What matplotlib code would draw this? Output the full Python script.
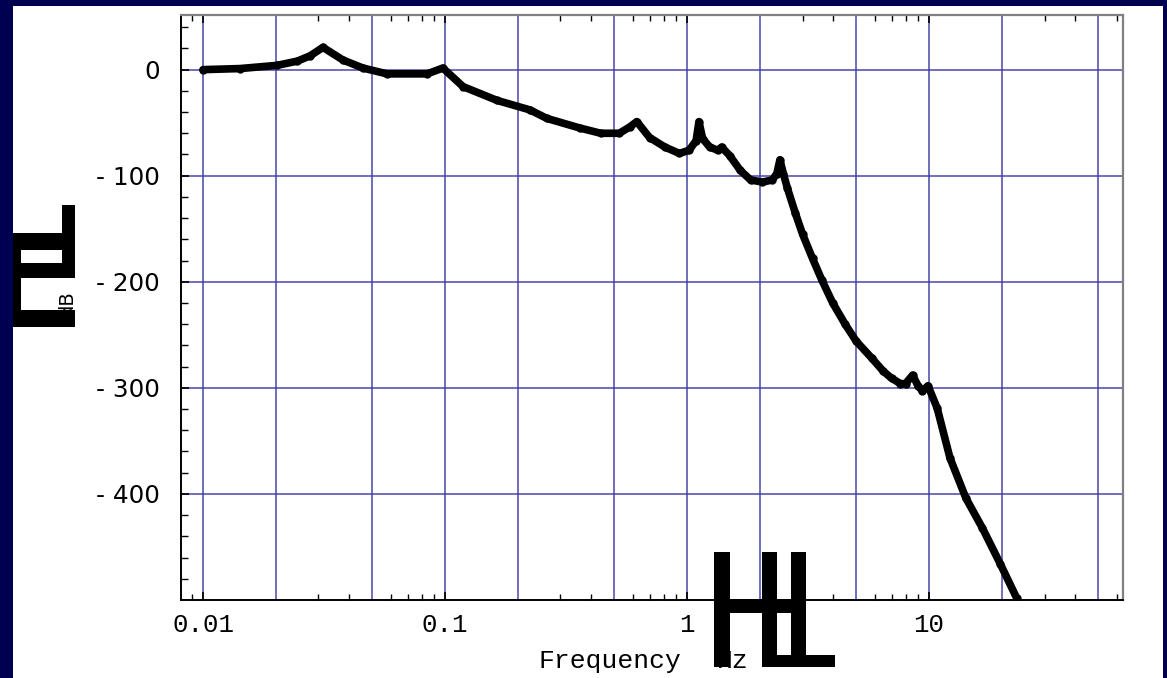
import numpy as np
import matplotlib
matplotlib.use("Agg")
import matplotlib.pyplot as plt
from matplotlib.patches import Rectangle
from matplotlib.ticker import FixedLocator, NullFormatter

# ---- data ----
freq_hz = [0.01, 0.0142, 0.0202, 0.0245, 0.0277, 0.0313, 0.0379, 0.0458, 0.0576,
           0.0843, 0.098, 0.1187, 0.164, 0.2245, 0.2635, 0.36, 0.44, 0.525, 0.58,
           0.62, 0.70, 0.81, 0.93, 1.02, 1.09, 1.12, 1.16, 1.24, 1.34, 1.39, 1.50,
           1.66, 1.83, 2.05, 2.25, 2.35, 2.42, 2.5, 2.6, 2.8, 3.0, 3.3, 3.6, 4.0,
           4.5, 5.0, 5.8, 6.45, 7.0, 7.62, 8.0, 8.55, 9.0, 9.39, 9.9, 10.8, 12.2,
           14.2, 16.6, 19.7, 23.0]
gain_db = [0, 1, 4, 8, 13, 21, 9, 1.5, -4,
           -4, 1.5, -16, -29, -38, -46, -55, -60, -60, -54,
           -49, -64, -73, -79, -76, -67, -49, -65, -73, -76, -73, -81,
           -95, -104, -106, -104, -98, -85, -98, -112, -135, -155, -178, -198, -220,
           -240, -256, -272, -284, -291, -296, -296, -288, -298, -303, -298, -319, -366,
           -404, -432, -466, -498]

yticks = [0, -100, -200, -300, -400]
ytick_labels = ["0", "- 100", "- 200", "- 300", "- 400"]
xticks = [0.01, 0.1, 1, 10]
xtick_labels = ["0.01", "0.1", "1", "10"]
xgrid = [0.01, 0.02, 0.05, 0.1, 0.2, 0.5, 1, 2, 5, 10, 20, 50]

W, H = 1167, 678
fig = plt.figure(figsize=(W / 100, H / 100), dpi=100)
fig.patch.set_facecolor("#000050")
fig.add_artist(Rectangle((13 / W, 0), 1150 / W, 672 / H, transform=fig.transFigure,
                         facecolor="white", edgecolor="none", zorder=-10))

ax = fig.add_axes([181 / W, 1 - 600 / H, (1123 - 181) / W, (600 - 15) / H])
ax.set_facecolor("white")
ax.set_xscale("log")
ax.set_xlim(0.00811, 63.3)
ax.set_ylim(-500, 51.5)

# grid
for g in xgrid:
    ax.axvline(g, color="#3c3ca5", lw=1.3, alpha=0.8, zorder=1)
for g in yticks:
    ax.axhline(g, color="#3c3ca5", lw=1.3, alpha=0.8, zorder=1)

ax.plot(freq_hz, gain_db, color="black", lw=5.5, solid_capstyle="round",
        solid_joinstyle="round", zorder=3, marker="o", ms=5)

# spines
for s in ["left", "bottom"]:
    ax.spines[s].set_color("black")
    ax.spines[s].set_linewidth(1.4)
for s in ["top", "right"]:
    ax.spines[s].set_color("#808080")
    ax.spines[s].set_linewidth(1.6)

ax.xaxis.set_major_locator(FixedLocator(xticks))
ax.set_xticklabels(xtick_labels)
minor = [m * 10.0 ** e for e in range(-3, 2) for m in (3, 4, 6, 7, 8, 9)]
ax.xaxis.set_minor_locator(FixedLocator(minor))
ax.xaxis.set_minor_formatter(NullFormatter())
ax.yaxis.set_major_locator(FixedLocator(yticks))
ax.set_yticklabels(ytick_labels)
ax.yaxis.set_minor_locator(FixedLocator(list(range(-480, 60, 20))))

ax.tick_params(axis="x", which="both", direction="in", top=True, bottom=True,
               color="black")
ax.tick_params(axis="x", which="major", length=6, width=1.2, pad=9)
ax.tick_params(axis="x", which="minor", length=4, width=1.0)
ax.tick_params(axis="y", which="both", direction="in", left=True, right=False,
               color="black")
ax.tick_params(axis="y", which="major", length=6, width=1.2, pad=15)
ax.tick_params(axis="y", which="minor", length=5, width=1.0)

for lbl in ax.get_xticklabels():
    lbl.set_fontfamily("Liberation Mono")
    lbl.set_fontsize(18.5)
for lbl in ax.get_yticklabels():
    lbl.set_fontfamily("DejaVu Sans")
    lbl.set_fontsize(17.7)

# axis label texts
fig.text(610 / W, 1 - 668 / H, "Frequency", family="Liberation Mono", fontsize=19,
         ha="center", va="baseline", color="black")
fig.text(733 / W, 1 - 668 / H, "Hz", family="Liberation Mono", fontsize=19,
         ha="center", va="baseline", color="black", zorder=1)
fig.text(67 / W, 1 - 303 / H, "dB", family="DejaVu Sans", fontsize=14,
         rotation=90, ha="center", va="center", color="black", zorder=1)

# oversized bracket glyph artefacts
def block(x0, x1, y0, y1):
    fig.add_artist(Rectangle((x0 / W, 1 - y1 / H), (x1 - x0) / W, (y1 - y0) / H,
                             transform=fig.transFigure, facecolor="black",
                             edgecolor="none", zorder=5))

# y label brackets
block(62, 75, 205, 278)
block(13, 75, 233, 250)
block(13, 75, 263, 278)
block(13, 21, 233, 327)
block(13, 75, 310, 327)
# x label brackets
block(714, 730, 552, 667)
block(714, 806, 599, 613)
block(762, 777, 552, 667)
block(791, 806, 552, 667)
block(762, 835, 655, 667)

fig.savefig("out.png", dpi=100, facecolor=fig.get_facecolor())
